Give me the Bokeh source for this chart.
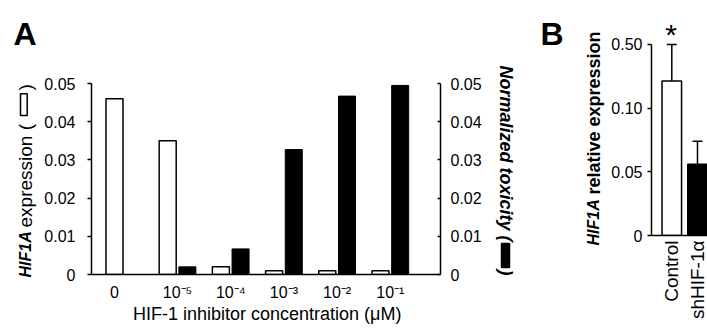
import numpy as np
from math import pi
from bokeh.plotting import figure
from bokeh.models import (Range1d, LinearAxis, FixedTicker,
                          Whisker, TeeHead, ColumnDataSource)
from bokeh.core.properties import value
from bokeh.layouts import row
from bokeh.embed import file_html
from bokeh.resources import INLINE

# ---------------- data ----------------
concentrations = ["0", "10⁻⁵", "10⁻⁴", "10⁻³", "10⁻²", "10⁻¹"]
hif1a_expression = [0.046, 0.035, 0.002, 0.001, 0.001, 0.001]
normalized_toxicity = [0.0, 0.002, 0.0067, 0.0327, 0.0467, 0.0495]
a_ticks = [0, 0.01, 0.02, 0.03, 0.04, 0.05]
a_tick_labels = ["0", "0.01", "0.02", "0.03", "0.04", "0.05"]

b_groups = ["Control", "shHIF-1α"]
b_expression = [0.27, 0.056]
b_error = [0.23, 0.018]
b_ticks = [0, 0.05, 0.10, 0.50]
b_tick_labels = ["0", "0.05", "0.10", "0.50"]

FONT = "Liberation Sans"

# ---------------- panel A ----------------
idx = np.arange(len(concentrations))
off = 0.185
src_a = ColumnDataSource(dict(xw=idx - off, xb=idx + off,
                              expr=hif1a_expression, tox=normalized_toxicity))

XA0, XA1, YA1 = -0.617, 5.943, 0.05
pa = figure(width=565, height=329, x_range=Range1d(XA0, XA1), y_range=Range1d(0, YA1),
            output_backend="svg", toolbar_location=None, frame_align=False,
            min_border_left=91, min_border_right=125, min_border_top=83, min_border_bottom=55)
pa.extra_y_ranges = {"tox": Range1d(0, 0.05)}
pa.xgrid.visible = False
pa.ygrid.visible = False
pa.outline_line_color = None

pa.vbar(x="xw", top="expr", width=0.32, source=src_a, fill_color="white",
        line_color="black", line_width=1.5)
pa.vbar(x="xb", top="tox", width=0.32, source=src_a, fill_color="black",
        line_color="black", line_width=1, y_range_name="tox")

def style_axis(ax, size):
    ax.axis_line_color = "black"
    ax.axis_line_width = 1.5
    ax.major_tick_line_color = "black"
    ax.major_tick_line_width = 1.5
    ax.minor_tick_line_color = None
    ax.major_label_text_font = FONT
    ax.major_label_text_font_size = size
    ax.major_label_text_color = "black"

ly = pa.yaxis[0]
ly.ticker = FixedTicker(ticks=a_ticks)
ly.major_label_overrides = {t: l for t, l in zip(a_ticks, a_tick_labels)}
style_axis(ly, "16px")
ly.major_tick_out = 4
ly.major_tick_in = 0
ly.major_label_standoff = 12

ry = LinearAxis(y_range_name="tox")
ry.ticker = FixedTicker(ticks=a_ticks)
ry.major_label_overrides = {t: l for t, l in zip(a_ticks, a_tick_labels)}
style_axis(ry, "16px")
ry.major_tick_out = 0
ry.major_tick_in = 3
ry.major_label_standoff = 10
pa.add_layout(ry, "right")

bx = pa.xaxis[0]
x_tick_pos = [float(i) for i in idx]
x_tick_pos[0] = -off
bx.ticker = FixedTicker(ticks=x_tick_pos)
bx.major_label_overrides = {t: l for t, l in zip(x_tick_pos, concentrations)}
style_axis(bx, "16px")
bx.major_tick_out = 0
bx.major_tick_in = 0
bx.major_label_standoff = 9

# page pixel -> data coordinates of panel A
def da(px, py):
    return XA0 + (px - 91) * (XA1 - XA0) / 349.0, (274 - py) * YA1 / 191.0

def txt(p, pos, text, size, style="normal", angle=0, align="left", baseline="middle"):
    p.text(x=[pos[0]], y=[pos[1]], text=[text], angle=angle, text_align=align,
           text_baseline=baseline, text_font=value(FONT), text_font_size=size,
           text_font_style=style, text_color="black", level="overlay")

def box(p, conv, x0, x1, y0, y1, fill):
    l, b = conv(x0, y1)
    r, t = conv(x1, y0)
    p.quad(left=[l], right=[r], bottom=[b], top=[t], fill_color=fill,
           line_color="black", line_width=1.5, level="overlay")

txt(pa, da(13, 33.5), "A", "32px", "bold", baseline="alphabetic")
txt(pa, da(540, 33.5), "B", "32px", "bold", baseline="alphabetic")
# left axis title
txt(pa, da(25, 277), "HIF1A", "16px", "bold italic", angle=pi / 2)
txt(pa, da(25, 227), "expression (", "19px", "normal", angle=pi / 2)
box(pa, da, 20, 26.7, 93.3, 115, "white")
txt(pa, da(25, 90), ")", "19px", "normal", angle=pi / 2)
# right axis title
txt(pa, da(505, 65), "Normalized toxicity (", "18px", "bold italic", angle=-pi / 2)
box(pa, da, 501, 509, 243, 267, "black")
txt(pa, da(505, 269), ")", "18px", "bold italic", angle=-pi / 2)
# x axis title
txt(pa, da(266.7, 313), "HIF-1 inhibitor concentration (μM)", "18px", align="center")

# ---------------- panel B ----------------
tick_pos_b = list(range(len(b_ticks)))
def to_pos(v):
    return np.interp(v, b_ticks, tick_pos_b)

bvals = np.array(b_expression)
berr = np.array(b_error)
xb_idx = np.arange(len(b_groups))
src_b = ColumnDataSource(dict(x=xb_idx, top=to_pos(bvals), upper=to_pos(bvals + berr),
                              fill=["white", "black"]))

XB0, XB1, YB1 = -0.79, 1.39, 3.454
pb = figure(width=142, height=329, x_range=Range1d(XB0, XB1), y_range=Range1d(0, YB1),
            output_backend="svg", toolbar_location=None, frame_align=False,
            min_border_left=86, min_border_right=0, min_border_top=15, min_border_bottom=94)
pb.xgrid.visible = False
pb.ygrid.visible = False
pb.outline_line_color = None

pb.vbar(x="x", top="top", width=0.76, source=src_b, fill_color="fill",
        line_color="black", line_width=1.5)
pb.add_layout(Whisker(source=src_b, base="x", lower="top", upper="upper", dimension="height",
                      line_color="black", line_width=1.5, lower_head=None,
                      upper_head=TeeHead(size=10, line_color="black", line_width=1.5)))

byax = pb.yaxis[0]
byax.ticker = FixedTicker(ticks=tick_pos_b)
byax.major_label_overrides = {t: l for t, l in zip(tick_pos_b, b_tick_labels)}
byax.bounds = (0, tick_pos_b[-1])
style_axis(byax, "16px")
byax.major_tick_out = 4
byax.major_tick_in = 0
byax.major_label_standoff = 5

bxax = pb.xaxis[0]
bxax.ticker = FixedTicker(ticks=list(xb_idx))
bxax.major_label_overrides = {int(i): g for i, g in zip(xb_idx, b_groups)}
style_axis(bxax, "19px")
bxax.major_label_orientation = pi / 2
bxax.major_tick_out = 0
bxax.major_tick_in = 0
bxax.major_label_standoff = 5

def db(px, py):
    return XB0 + (px - 651) * (XB1 - XB0) / 56.0, (235 - py) * YB1 / 220.0

txt(pb, db(593, 245), "HIF1A", "16px", "bold italic", angle=pi / 2)
txt(pb, db(593, 194), "relative expression", "18px", "bold", angle=pi / 2)
txt(pb, db(670.5, 34), "*", "30px", "normal", align="center", baseline="alphabetic")

layout = row(pa, pb)
open("out.html", "w").write(file_html(layout, INLINE))
